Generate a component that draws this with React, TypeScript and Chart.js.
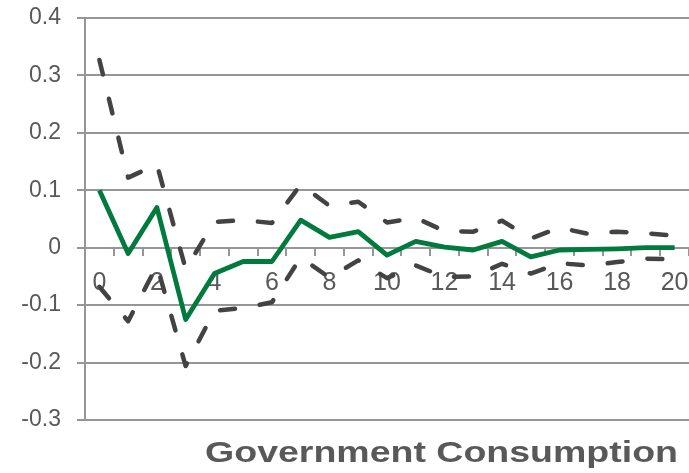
import React, { useEffect, useRef } from "react";
import { Chart, registerables } from "chart.js";

Chart.register(...registerables);

// Horizon (quarters after the shock)
const horizons: string[] = Array.from({ length: 21 }, (_, i) => String(i));

// Impulse response and its confidence bands
const response: number[] = [
  0.1, -0.01, 0.07, -0.125, -0.045, -0.024, -0.024, 0.048, 0.018, 0.028,
  -0.013, 0.011, 0.001, -0.004, 0.011, -0.016, -0.004, -0.003, -0.002, 0, 0,
];
const upperBand: number[] = [
  0.327, 0.122, 0.145, -0.037, 0.045, 0.048, 0.043, 0.11, 0.073, 0.08,
  0.044, 0.052, 0.029, 0.028, 0.047, 0.016, 0.035, 0.024, 0.028, 0.025, 0.021,
];
const lowerBand: number[] = [
  -0.068, -0.128, -0.031, -0.206, -0.11, -0.105, -0.095, -0.017, -0.052, -0.022,
  -0.053, -0.031, -0.051, -0.05, -0.028, -0.045, -0.027, -0.031, -0.025, -0.019, -0.02,
];

const yTicks = { min: -0.3, max: 0.4, step: 0.1 };
const titleText = "Government Consumption";

const FONT = '"Liberation Sans", Arial, sans-serif';
const GRID = "#969696";
const LABEL = "#595959";

// Bottom-right panel title, drawn slightly widened
const panelTitle = {
  id: "panelTitle",
  afterDraw(chart: Chart) {
    const { ctx } = chart;
    ctx.save();
    ctx.font = `bold 30px ${FONT}`;
    ctx.fillStyle = LABEL;
    ctx.textAlign = "right";
    ctx.textBaseline = "alphabetic";
    ctx.translate(678, 462);
    ctx.scale(1.25, 1);
    ctx.fillText(titleText, 0, 0);
    ctx.restore();
  },
};

export default function App() {
  const canvasRef = useRef<HTMLCanvasElement | null>(null);

  useEffect(() => {
    if (!canvasRef.current) return;
    const dashed = {
      borderColor: "#434343",
      borderWidth: 4.5,
      borderDash: [15, 25],
      borderCapStyle: "round" as const,
      borderJoinStyle: "round" as const,
      pointRadius: 0,
      tension: 0,
      fill: false,
    };
    const chart = new Chart(canvasRef.current, {
      type: "line",
      data: {
        labels: horizons,
        datasets: [
          {
            label: "Response",
            data: response,
            borderColor: "#007A3D",
            borderWidth: 4.8,
            borderJoinStyle: "round",
            pointRadius: 0,
            tension: 0,
            fill: false,
          },
          { label: "Upper", data: upperBand, ...dashed },
          { label: "Lower", data: lowerBand, ...dashed },
        ],
      },
      options: {
        responsive: false,
        animation: false,
        layout: { padding: { top: 18, bottom: 53, left: 0, right: 0 } },
        plugins: {
          legend: { display: false },
          tooltip: { enabled: false },
          title: { display: false },
        },
        scales: {
          x: {
            type: "category",
            position: { y: 0 },
            offset: true,
            afterFit: (scale) => {
              // labels stay inside the plot; no extra side padding
              scale.paddingLeft = 0;
              scale.paddingRight = 0;
            },
            grid: {
              offset: true,
              drawOnChartArea: false,
              drawTicks: true,
              tickLength: 7,
              color: GRID,
              lineWidth: 2,
            },
            border: { display: true, color: GRID, width: 2 },
            ticks: {
              autoSkip: false,
              maxRotation: 0,
              padding: 13,
              color: LABEL,
              font: { family: FONT, size: 25 },
              callback: (_v, i) => (i % 2 === 0 ? horizons[i] : ""),
            },
          },
          y: {
            min: yTicks.min,
            max: yTicks.max,
            afterFit: (scale) => {
              scale.width = 85;
              scale.paddingTop = 0;
              scale.paddingBottom = 0;
            },
            grid: {
              color: GRID,
              lineWidth: 2,
              drawTicks: true,
              tickLength: 8,
            },
            border: { display: true, color: GRID, width: 2 },
            ticks: {
              stepSize: yTicks.step,
              padding: 16,
              color: LABEL,
              font: { family: FONT, size: 23 },
              callback: (v) => String(Number(Number(v).toFixed(1))),
            },
          },
        },
      },
      plugins: [panelTitle],
    });
    return () => chart.destroy();
  }, []);

  return (
    <div style={{ position: "absolute", left: 0, top: 0, width: 689, height: 473, background: "#fff" }}>
      <canvas ref={canvasRef} width={689} height={473} style={{ display: "block" }} />
    </div>
  );
}
